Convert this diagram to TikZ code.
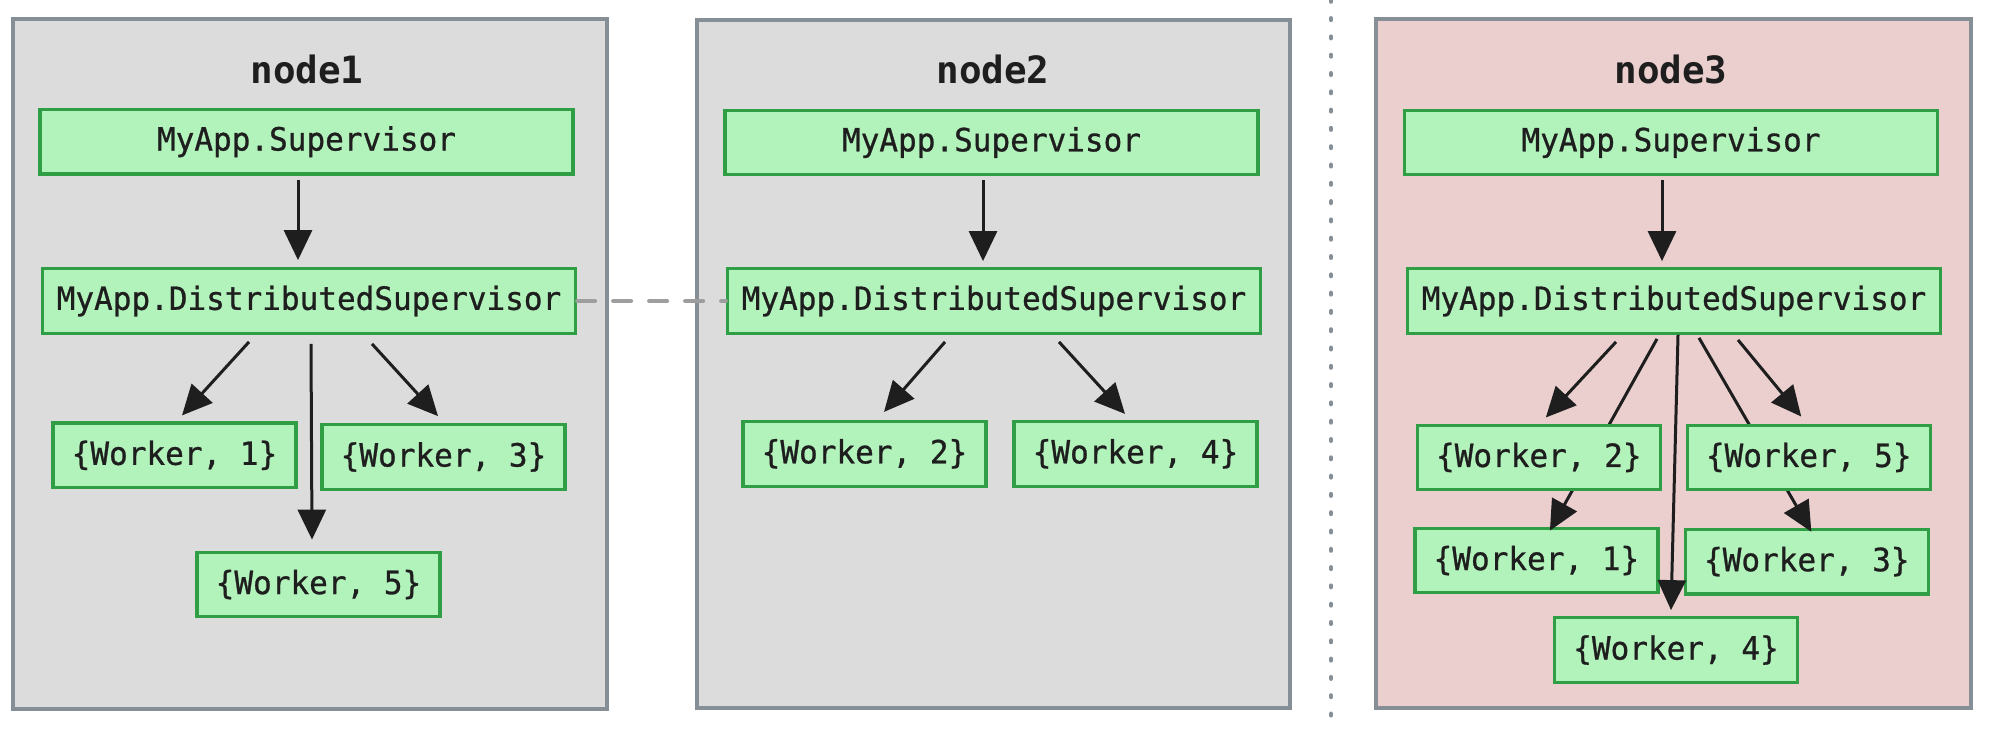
\documentclass[tikz,border=0pt]{standalone}
\usepackage{fontspec}
\setmonofont{DejaVu Sans Mono}
\newfontfamily\boxfont[FakeStretch=0.97, FakeBold=0.8]{DejaVu Sans Mono}
\usepackage{xcolor}
\usetikzlibrary{arrows.meta}

\definecolor{panelgray}{HTML}{DCDCDC}
\definecolor{panelpink}{HTML}{EBCFCF}
\definecolor{panelline}{HTML}{868E96}
\definecolor{boxfill}{HTML}{B2F2BB}
\definecolor{boxline}{HTML}{2F9E44}
\definecolor{ink}{HTML}{1E1E1E}
\definecolor{syncgray}{HTML}{9E9E9E}

\pgfdeclarelayer{front}
\pgfsetlayers{main,front}

\begin{document}
\begin{tikzpicture}
[x=0.5pt, y=-0.5pt,
panel/.style={draw=panelline, line width=2pt, fill=panelgray},
title/.style={anchor=base, font=\ttfamily\bfseries\fontsize{18.8}{20}\selectfont, text=ink},
sup/.style={rectangle, draw=boxline, fill=boxfill, line width=1.6pt, minimum width=266.5pt, minimum height=32.3pt, inner sep=0pt, font=\boxfont\fontsize{16}{18}\selectfont, text=ink},
worker/.style={sup, minimum width=121.5pt},
link/.style={draw=ink, line width=1.5pt, -{Triangle[length=15pt, width=14pt]}},
sync/.style={draw=syncgray, line width=2pt, line cap=round, dash pattern=on 9pt off 9pt},
divider/.style={draw=panelline, line width=2.2pt, line cap=round, dash pattern=on 0.8pt off 8.35pt},
]
\useasboundingbox (0,0) rectangle (1990,730);

% the three machines
\draw[panel] (13,19) rectangle (607,709);
\draw[panel] (697,20) rectangle (1290,708);
\draw[panel, fill=panelpink] (1376,19) rectangle (1971,708);
\draw[divider] (1331,0) -- (1331,730);

% node1
\node[title] (t1) at (307,83) {node1};
\node[sup] (s1) at (306.5,141.7) {MyApp.Supervisor};
\node[sup] (d1) at (309,301) {MyApp.DistributedSupervisor};
\node[worker] (w11) at (174.5,455.3) {\{Worker, 1\}};
\node[worker] (w13) at (443.5,457) {\{Worker, 3\}};
\node[worker] (w15) at (318.5,584.5) {\{Worker, 5\}};

% node2
\node[title] (t2) at (993,83) {node2};
\node[sup] (s2) at (991.5,142.5) {MyApp.Supervisor};
\node[sup] (d2) at (994,301) {MyApp.DistributedSupervisor};
\node[worker] (w22) at (864.5,453.8) {\{Worker, 2\}};
\node[worker] (w24) at (1135.5,453.8) {\{Worker, 4\}};

% node3
\node[title] (t3) at (1671,83) {node3};
\node[sup] (s3) at (1671,142.5) {MyApp.Supervisor};
\node[sup] (d3) at (1674,301) {MyApp.DistributedSupervisor};
\node[worker] (w31) at (1536.4,560.5) {\{Worker, 1\}};
\node[worker] (w33) at (1806.8,561.6) {\{Worker, 3\}};
\node[worker] (w34) at (1676,650) {\{Worker, 4\}};
\begin{pgfonlayer}{front}
\node[worker] (w32) at (1538.8,457.4) {\{Worker, 2\}};
\node[worker] (w35) at (1808.7,457.4) {\{Worker, 5\}};
\end{pgfonlayer}

\draw[sync] (d1.east) -- (d2.west);

\draw[link] ([shift={(-8.5,4)}]s1.south) -- ([shift={(-11,-7)}]d1.north);
\draw[link] ([shift={(-60,7)}]d1.south) -- ([shift={(7.5,-6)}]w11.north);
\draw[link] ([shift={(2,9)}]d1.south) -- ([shift={(-6.5,-11)}]w15.north);
\draw[link] ([shift={(63,9)}]d1.south) -- ([shift={(-5.5,-7)}]w13.north);

\draw[link] ([shift={(-8.5,4)}]s2.south) -- ([shift={(-11,-6)}]d2.north);
\draw[link] ([shift={(-49,7)}]d2.south) -- ([shift={(19.5,-8)}]w22.north);
\draw[link] ([shift={(65,7)}]d2.south) -- ([shift={(-10.5,-6)}]w24.north);

\draw[link] ([shift={(-9,4)}]s3.south) -- ([shift={(-12,-6)}]d3.north);
\draw[link] ([shift={(-58,7)}]d3.south) -- ([shift={(7,-6)}]w32.north);
\draw[link] ([shift={(-17,4)}]d3.south) -- ([shift={(13.5,4)}]w31.north);
\draw[link] ([shift={(4,0)}]d3.south) -- ([shift={(-5,-6)}]w34.north);
\draw[link] ([shift={(25,3)}]d3.south) -- ([shift={(4.5,4)}]w33.north);
\draw[link] ([shift={(64,5)}]d3.south) -- ([shift={(-7.5,-7)}]w35.north);
\end{tikzpicture}
\end{document}
